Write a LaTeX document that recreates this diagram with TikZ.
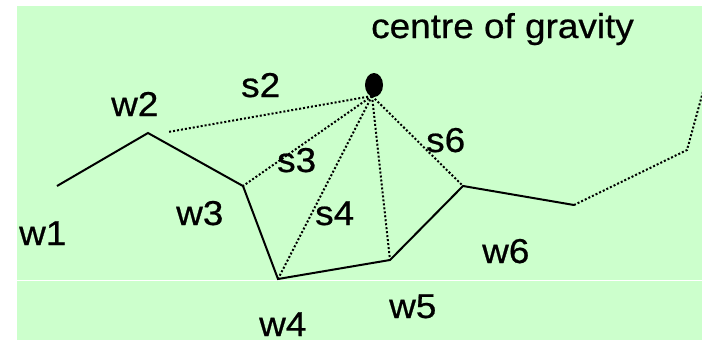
\documentclass[tikz,border=0pt]{standalone}
\usepackage{fontspec}
\usetikzlibrary{shapes.geometric}
\setmainfont{Liberation Sans}[FakeStretch=1.07,FakeBold=0.6]
\begin{document}
\begin{tikzpicture}[x=1pt,y=-1pt,
  lbl/.style={anchor=base west,inner sep=0pt,font=\fontsize{34.5}{38}\selectfont},
  wall/.style={line width=2pt,line join=miter},
  sight/.style={line width=2pt,dash pattern=on 2pt off 2pt}]
\useasboundingbox (0,0) rectangle (702,340);
\fill[fill={rgb,255:red,204;green,255;blue,204}] (17,6) rectangle (702,340);
\draw[white,line width=1pt] (17,280) -- (702,280);
% vertices
\coordinate (v1) at (57,186);
\coordinate (v2) at (148,133);
\coordinate (v3) at (243,186);
\coordinate (v4) at (278,279);
\coordinate (v5) at (390,260);
\coordinate (v6) at (463,186);
\coordinate (v7) at (574,205);
\coordinate (v8) at (687,150);
\coordinate (v9) at (704,88);
\coordinate (s2end) at (168,132);
\coordinate (hub) at (372,96);
\node[fill=black,ellipse,minimum width=18pt,minimum height=24pt,inner sep=0pt] (cog) at (374,85) {};
% walls
\draw[wall] (v1) -- (v2) -- (v3) -- (v4) -- (v5) -- (v6) -- (v7);
\draw[sight] (v7) -- (v8) -- (v9);
% sight lines
\draw[sight] (hub) -- (s2end);
\draw[sight] (hub) -- (v3);
\draw[sight] (hub) -- (v4);
\draw[sight] (hub) -- (v5);
\draw[sight] (hub) -- (v6);
% labels
\node[lbl] (title) at (371,38) {centre of gravity};
\node[lbl] (lw1) at (19,245) {w1};
\node[lbl] (lw2) at (111,116) {w2};
\node[lbl] (lw3) at (176,225) {w3};
\node[lbl] (lw4) at (259,336) {w4};
\node[lbl] (lw5) at (389,318) {w5};
\node[lbl] (lw6) at (482,263) {w6};
\node[lbl] (ls2) at (241,97) {s2};
\node[lbl] (ls3) at (277,172) {s3};
\node[lbl] (ls4) at (315,225) {s4};
\node[lbl] (ls6) at (426,152) {s6};
\end{tikzpicture}
\end{document}
